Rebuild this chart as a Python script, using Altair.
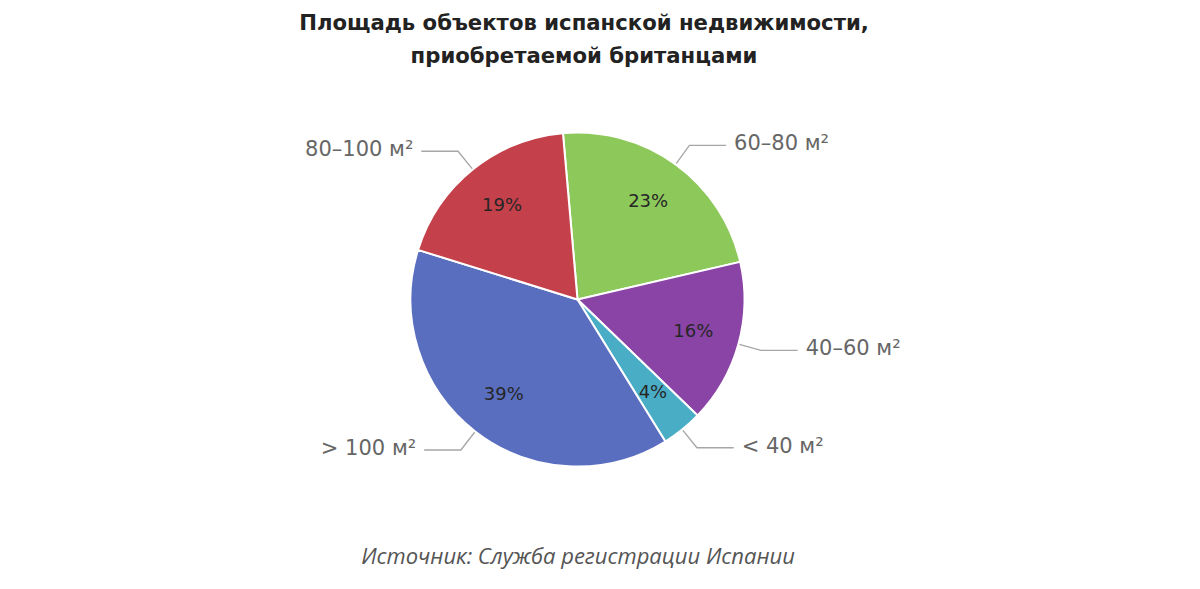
import math
import altair as alt
import pandas as pd

# ---- data ----
categories = ["60–80 м²", "40–60 м²", "< 40 м²", "> 100 м²", "80–100 м²"]
values = [23, 16, 4, 39, 19]
colors = ["#8dc85a", "#8944a5", "#4aadc6", "#5a6ec0", "#c4404a"]
title_lines = ["Площадь объектов испанской недвижимости,", "приобретаемой британцами"]
source_text = "Источник: Служба регистрации Испании"

# ---- layout ----
W, H = 1184, 573
CX, CY = 569.5, 291.5
R = 167.0
START = math.radians(-5)

total = sum(values)
rows, line_rows = [], []
cum = 0.0
for i, (c, v) in enumerate(zip(categories, values)):
    frac = v / total
    mid = START + (cum + frac / 2) * 2 * math.pi
    cum += frac
    sx, cy_ = math.sin(mid), math.cos(mid)
    side = 1 if sx >= 0 else -1
    ex, ey = sx * 1.14, cy_ * 1.14
    lx = ex + side * 0.22
    rows.append({"cat": c, "value": v, "order": i, "pct": f"{v}%",
                 "px": sx * 0.72, "py": cy_ * 0.72,
                 "lx": lx, "ly": ey, "side": "r" if side > 0 else "l"})
    for k, (xx, yy) in enumerate([(sx * 1.0, cy_ * 1.0), (ex, ey), (lx, ey)]):
        line_rows.append({"cat": c, "k": k, "x": xx, "y": yy})

df = pd.DataFrame(rows)
lines = pd.DataFrame(line_rows)

xs = alt.Scale(domain=[-CX / R, (W - CX) / R], nice=False, zero=False)
ys = alt.Scale(domain=[-(H - CY) / R, CY / R], nice=False, zero=False)

pie = alt.Chart(df).mark_arc(radius=R, stroke="white", strokeWidth=2).encode(
    theta=alt.Theta("value:Q", stack=True,
                    scale=alt.Scale(range=[START, START + 2 * math.pi])),
    color=alt.Color("cat:N", scale=alt.Scale(domain=categories, range=colors), legend=None),
    order=alt.Order("order:Q"),
    x=alt.value(CX), y=alt.value(CY),
)

leaders = alt.Chart(lines).mark_line(color="#a6a6a6", strokeWidth=1.3).encode(
    x=alt.X("x:Q", scale=xs, axis=None),
    y=alt.Y("y:Q", scale=ys, axis=None),
    detail="cat:N",
    order="k:Q",
)

pct = alt.Chart(df).mark_text(font="DejaVu Sans", fontSize=18, color="#262626").encode(
    x=alt.X("px:Q", scale=xs, axis=None),
    y=alt.Y("py:Q", scale=ys, axis=None),
    text="pct:N",
)

lab_r = alt.Chart(df).transform_filter("datum.side == 'r'").mark_text(
    font="DejaVu Sans", fontSize=21, color="#666666", align="left", dx=8, dy=-1
).encode(x=alt.X("lx:Q", scale=xs, axis=None), y=alt.Y("ly:Q", scale=ys, axis=None), text="cat:N")

lab_l = alt.Chart(df).transform_filter("datum.side == 'l'").mark_text(
    font="DejaVu Sans", fontSize=21, color="#666666", align="right", dx=-8, dy=-1
).encode(x=alt.X("lx:Q", scale=xs, axis=None), y=alt.Y("ly:Q", scale=ys, axis=None), text="cat:N")

t1 = alt.Chart(pd.DataFrame({"t": [title_lines[0]]})).mark_text(
    font="DejaVu Sans", fontSize=21.2, fontWeight="bold", color="#222222", baseline="alphabetic"
).encode(x=alt.value(576), y=alt.value(22), text="t:N")
t2 = alt.Chart(pd.DataFrame({"t": [title_lines[1]]})).mark_text(
    font="DejaVu Sans", fontSize=21.2, fontWeight="bold", color="#222222", baseline="alphabetic"
).encode(x=alt.value(576), y=alt.value(55), text="t:N")
src = alt.Chart(pd.DataFrame({"t": [source_text]})).mark_text(
    font="Open Sans", fontSize=22, fontStyle="italic", color="#555555", baseline="alphabetic"
).encode(x=alt.value(570), y=alt.value(556), text="t:N")

chart = alt.layer(leaders, pie, pct, lab_r, lab_l, t1, t2, src).properties(
    width=W, height=H, padding=0, background="white",
    autosize=alt.AutoSizeParams(type="none")
).configure_view(stroke=None)

chart.save("out.html", embed_options={"renderer": "svg", "actions": False})
